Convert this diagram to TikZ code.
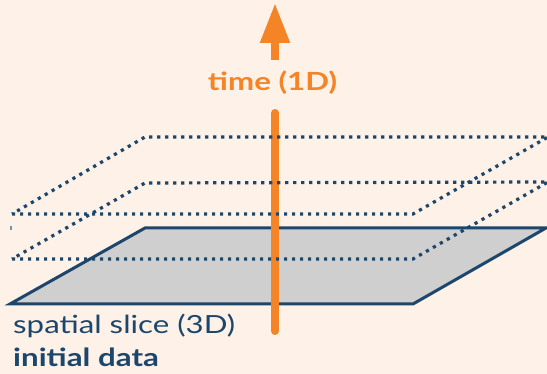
\documentclass[tikz,border=0pt]{standalone}
\usepackage{fontspec}
\setmainfont{Lato}
\usetikzlibrary{arrows.meta}
\definecolor{bgpeach}{HTML}{FDF1E8}
\definecolor{slateblue}{HTML}{1C466B}
\definecolor{timeorange}{HTML}{F58426}
\definecolor{planegray}{HTML}{CFCFCF}
% wide-set lettering used for all labels
\newcommand{\widetext}[1]{\scalebox{1.25}[1]{#1}}
\tikzset{
  plane/.style={draw=slateblue, fill=planegray, line width=3pt, line join=miter},
  slice/.style={draw=slateblue, line width=3.2pt, line cap=butt, dash pattern=on 3.2pt off 4.8pt},
  timeaxis/.style={draw=timeorange, line width=8pt},
  lab/.style={inner sep=0pt, anchor=base west, text=slateblue, font=\fontsize{25}{30}\selectfont},
}
\begin{document}
\begin{tikzpicture}[x=1pt, y=-1pt]
  \fill[bgpeach] (0,0) rectangle (547,374);
  \useasboundingbox (0,0) rectangle (547,374);

  % corners of the initial-data plane
  \coordinate (p0bl) at (10,304);
  \coordinate (p0br) at (413,304);
  \coordinate (p0tr) at (546,228);
  \coordinate (p0tl) at (145,228);
  % later slices, stacked 45 units apart
  \coordinate (p1bl) at (12,259);
  \coordinate (p1br) at (413,259);
  \coordinate (p1tr) at (548,182);
  \coordinate (p1tl) at (145,183);
  \coordinate (p2bl) at (12,214);
  \coordinate (p2br) at (413,214);
  \coordinate (p2tr) at (548,137);
  \coordinate (p2tl) at (145,137);

  \draw[plane] (p0bl) -- (p0br) -- (p0tr) -- (p0tl) -- cycle;

  % time axis, broken around its label
  \coordinate (tbot) at (275,331);
  \coordinate (gaplo) at (275,113);
  \coordinate (gaphi) at (275,60);
  \coordinate (ttop) at (275,3);
  \draw[timeaxis, line cap=round] (tbot) -- (gaplo);
  \draw[timeaxis, -{Triangle[length=40pt, width=28pt]}] (gaphi) -- (ttop);
  \node[inner sep=0pt, anchor=base, text=timeorange,
        font=\fontsize{25}{30}\selectfont\bfseries] (tlabel) at (272.5,91) {\widetext{time (1D)}};

  \draw[slice] (p1bl) -- (p1br) -- (p1tr) -- (p1tl) -- cycle;
  \draw[slice] (p2bl) -- (p2br) -- (p2tr) -- (p2tl) -- cycle;

  % small stray tick at the left edge
  \coordinate (ticka) at (11,226);
  \coordinate (tickb) at (11,230);
  \draw[slateblue!60, line width=1.5pt] (ticka) -- (tickb);

  \node[lab] (slicelab) at (13,334) {\widetext{spatial slice (3D)}};
  \node[lab, font=\fontsize{25}{30}\selectfont\bfseries] (datalab) at (13,367) {\widetext{initial data}};
\end{tikzpicture}
\end{document}
